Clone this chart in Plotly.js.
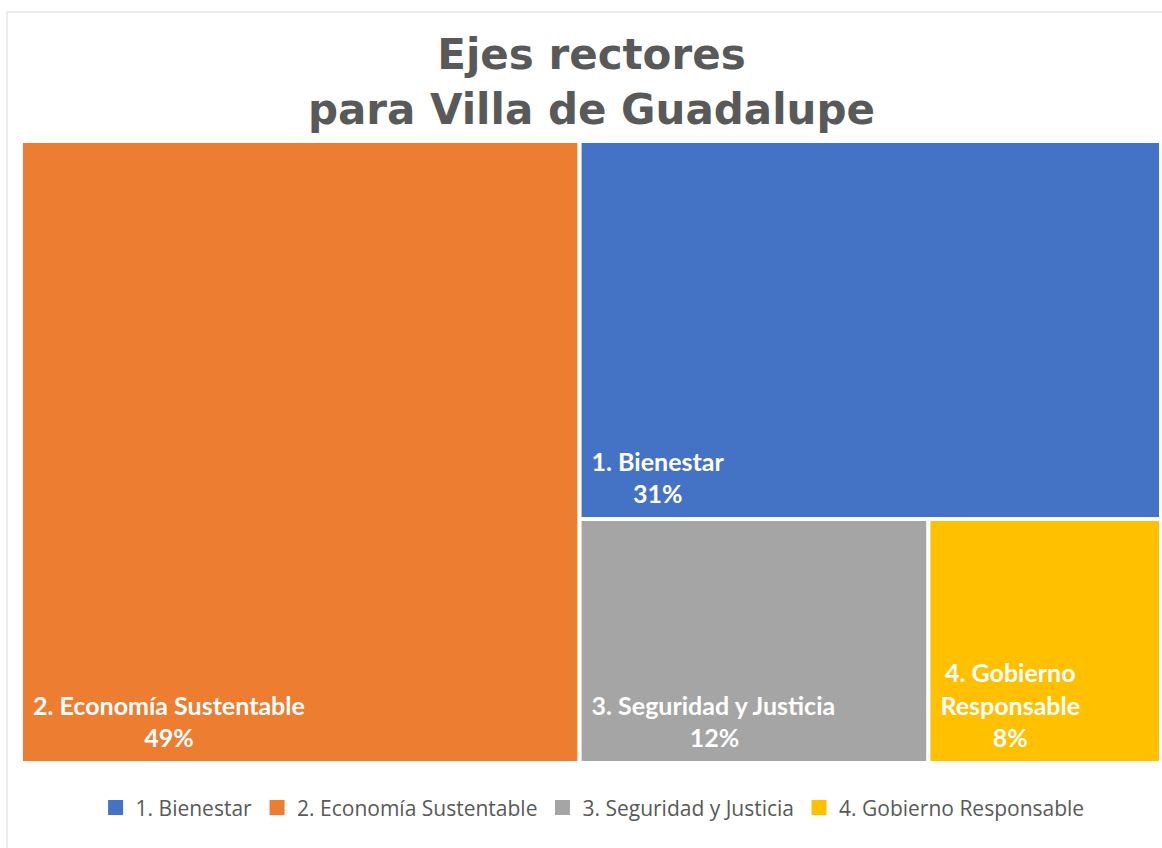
<!DOCTYPE html>
<html>
<head>
<meta charset="utf-8">
<script src="https://cdn.plot.ly/plotly-3.0.1.min.js"></script>
<style>html,body{margin:0;padding:0;background:#fff;}#chart{width:1162px;height:848px;}</style>
</head>
<body>
<div id="chart"></div>
<script>
// ---- data ----
var categories = ["1. Bienestar", "2. Economía Sustentable", "3. Seguridad y Justicia", "4. Gobierno Responsable"];
var values = [31, 49, 12, 8];
var tileLabels = ["1. Bienestar", "2. Economía Sustentable", "3. Seguridad y Justicia", "4. Gobierno<br>Responsable"];
var colors = ["#4472C4", "#ED7D31", "#A5A5A5", "#FFC000"];
var titleText = "Ejes rectores<br>para Villa de Guadalupe";

// ---- label layout: left inset, centred lines, bottom inset (whitespace only) ----
var tileFontSize = 25;
var cv = document.createElement("canvas").getContext("2d");
cv.font = "bold " + tileFontSize + "px Lato";
var nb = "\u00a0";
var nbW = cv.measureText(nb).width || 5;
var leadPx = 9;
function gap(px) {
  if (px <= 0.5) return "";
  var n = Math.ceil(px / nbW);
  var sz = (tileFontSize * px / (n * nbW)).toFixed(2);
  return '<span style="font-size:' + sz + 'px">' + new Array(n + 1).join(nb) + '</span>';
}
function centreLines(lines) {
  var ws = lines.map(function (l) { return cv.measureText(l).width; });
  var mx = Math.max.apply(null, ws);
  return lines.map(function (l, i) {
    return gap(leadPx + (mx - ws[i]) / 2) + l;
  }).join("<br>");
}
var total = values.reduce(function (a, b) { return a + b; }, 0);
var tileText = tileLabels.map(function (t, i) {
  var lines = t.split("<br>");
  lines.push(Math.round(values[i] / total * 100) + "%");
  return centreLines(lines) + '<span style="font-size:60px">' + nb + '</span>';
});

var traces = [{
  type: "treemap",
  labels: categories,
  parents: categories.map(function () { return ""; }),
  values: values,
  text: tileText,
  textinfo: "text",
  textposition: "bottom left",
  sort: true,
  marker: { colors: colors, line: { color: "#ffffff", width: 4 }, pad: { t: 0, l: 0, r: 0, b: 0 } },
  textfont: { family: "Lato", size: tileFontSize, color: "#ffffff", weight: "bold" },
  insidetextfont: { family: "Lato", size: tileFontSize, color: "#ffffff", weight: "bold" },
  tiling: { packing: "squarify", pad: 0 },
  pathbar: { visible: false },
  domain: { x: [0, 1], y: [0, 1] },
  hoverinfo: "label+value",
  showlegend: false
}];
categories.forEach(function (c, i) {
  traces.push({
    type: "scatter", mode: "markers", x: [null], y: [null], name: c,
    marker: { symbol: "square", size: 15, color: colors[i] },
    showlegend: true, hoverinfo: "skip"
  });
});

var layout = {
  width: 1162, height: 848,
  margin: { l: 21, r: 1, t: 141, b: 85, autoexpand: false },
  paper_bgcolor: "#ffffff", plot_bgcolor: "#ffffff",
  title: {
    text: titleText,
    font: { family: "DejaVu Sans", size: 42, color: "#595959", weight: "bold" },
    x: 0.509, xanchor: "center", y: 0.9186, yanchor: "top", yref: "container"
  },
  xaxis: { visible: false }, yaxis: { visible: false },
  showlegend: true,
  legend: {
    orientation: "h", x: 0.5014, xanchor: "center", y: -0.072, yanchor: "middle",
    font: { family: "Open Sans", size: 21, color: "#595959" },
    itemclick: false, itemdoubleclick: false
  },
  shapes: [{
    type: "rect", xref: "paper", yref: "paper",
    x0: -14 / 1140, x1: 1.01, y0: -0.2, y1: 1 + 129 / 622,
    line: { color: "#d9d9d9", width: 1 }, fillcolor: "rgba(0,0,0,0)", layer: "below"
  }]
};

Plotly.newPlot("chart", traces, layout, { displayModeBar: false, staticPlot: true });
</script>
</body>
</html>
